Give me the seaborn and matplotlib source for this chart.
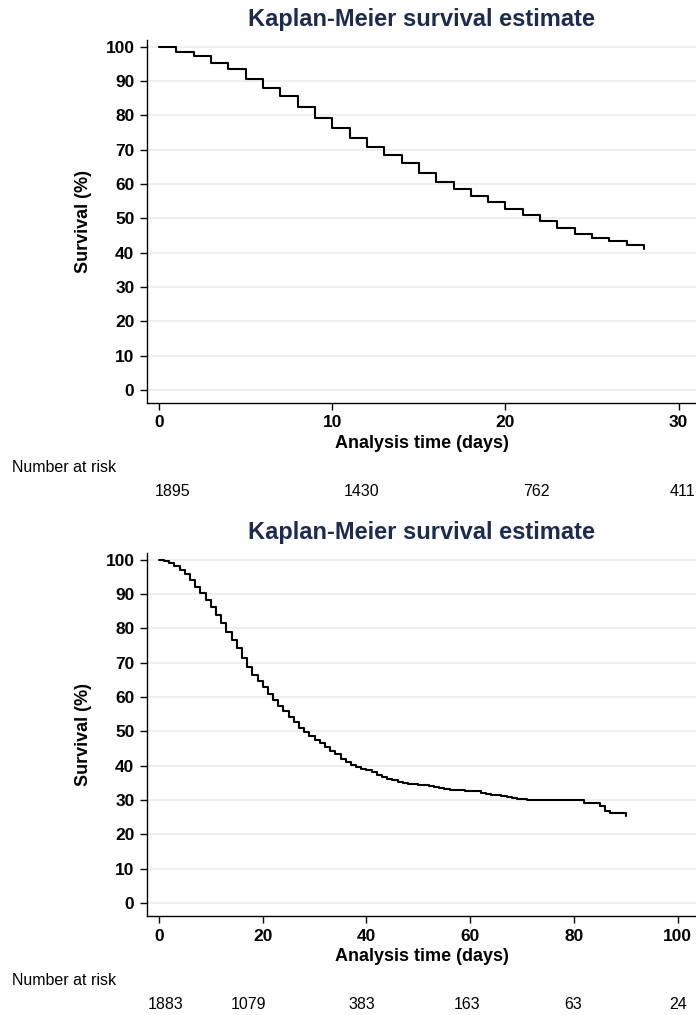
import matplotlib
matplotlib.use("Agg")
import matplotlib.pyplot as plt
import seaborn as sns
import pandas as pd

# -----------------------------
# Data
# -----------------------------
days_a = list(range(0, 29))
surv_a = [100, 98.5, 97.2, 95.2, 93.6, 90.7, 87.9, 85.7, 82.4, 79.2,
          76.3, 73.4, 70.9, 68.5, 66.1, 63.1, 60.7, 58.5, 56.6, 54.7,
          52.8, 51.0, 49.1, 47.1, 45.4, 44.2, 43.4, 42.1, 41.0]
ticks_a = [0, 10, 20, 30]
risk_a = [1895, 1430, 762, 411]
risk_a_x = [0.8, 11.7, 21.8, 30.2]

days_b = list(range(0, 91))
surv_b = [100, 99.7, 99.0, 98.3, 97.1, 95.9, 94.2, 92.2, 90.3, 88.3,
          86.4, 84.0, 81.6, 79.1, 76.7, 74.3, 71.4, 68.9, 66.5,
          64.6, 62.8, 61.0, 59.2, 57.5, 55.9, 54.2, 52.6, 51.0, 49.7, 48.6, 47.6,
          46.5, 45.5, 44.4, 43.3, 42.0, 41.0, 40.3, 39.6, 39.1, 38.7,
          38.2, 37.4, 36.7, 36.1, 35.7, 35.3, 34.9, 34.7, 34.6, 34.5,
          34.4, 34.2, 33.8, 33.5, 33.2, 33.0, 32.9, 32.8, 32.7, 32.7,
          32.5, 32.1, 31.8, 31.6, 31.4, 31.1, 30.8, 30.6, 30.4, 30.2,
          30.1, 30.1, 30.1, 30.0, 30.0, 30.0, 30.0, 30.0, 30.0, 30.0,
          30.0, 29.1, 29.1, 29.1, 28.2, 26.9, 26.1, 26.1, 26.1, 25.4]
ticks_b = [0, 20, 40, 60, 80, 100]
risk_b = [1883, 1079, 383, 163, 63, 24]
risk_b_x = [1.2, 17.3, 39.1, 59.3, 79.8, 100]

y_ticks = list(range(0, 101, 10))

sns.set_style("white")
plt.rcParams['font.family'] = ['Liberation Sans', 'DejaVu Sans']
plt.rcParams.update({'text.color': 'black', 'axes.labelcolor': 'black',
                     'xtick.color': 'black', 'ytick.color': 'black'})

TITLE_COL = "#1c2b4f"

fig = plt.figure(figsize=(6.96, 10.15), dpi=100)
ax_a = fig.add_axes([0.2112, 0.6030, 0.7888, 0.3576])
ax_b = fig.add_axes([0.2112, 0.0975, 0.7888, 0.3577])


def km_panel(ax, days, surv, ticks, xlim, risk, risk_x):
    df = pd.DataFrame({'day': days, 'surv': surv})
    for y in y_ticks:
        ax.axhline(y, color="#ececec", lw=1.2, zorder=0)
    sns.lineplot(data=df, x='day', y='surv', drawstyle='steps-post',
                 estimator=None, color='black', lw=1.5, ax=ax)
    ax.set_xlim(*xlim)
    ax.set_ylim(-3.8, 102)
    ax.set_xticks(ticks)
    ax.set_yticks(y_ticks)
    ax.tick_params(axis='both', direction='out', length=5, width=1,
                   color='black', labelcolor='black', labelsize=12.5, pad=4,
                   left=True, bottom=True)
    for lab in ax.get_xticklabels() + ax.get_yticklabels():
        lab.set_fontweight('bold')
    for s in ['top', 'right']:
        ax.spines[s].set_visible(False)
    for s in ['left', 'bottom']:
        ax.spines[s].set_color('black')
        ax.spines[s].set_linewidth(1)
    ax.set_xlabel("Analysis time (days)", fontsize=13, fontweight='bold', labelpad=3)
    ax.set_ylabel("Survival (%)", fontsize=13, fontweight='bold', labelpad=10)
    ax.set_title("Kaplan-Meier survival estimate", fontsize=17, fontweight='bold',
                 color=TITLE_COL, pad=10)
    # number at risk table
    trans = ax.get_xaxis_transform()
    ax.text(-0.246, -0.178, "Number at risk", transform=ax.transAxes,
            fontsize=11.5, ha='left', va='center', clip_on=False)
    for xv, n in zip(risk_x, risk):
        ax.text(xv, -0.245, str(n), transform=trans, fontsize=11.5,
                ha='center', va='center', clip_on=False)


km_panel(ax_a, days_a, surv_a, ticks_a, (-0.7, 31.0), risk_a, risk_a_x)
km_panel(ax_b, days_b, surv_b, ticks_b, (-2.3, 103.5), risk_b, risk_b_x)

fig.savefig("out.png", dpi=100)
